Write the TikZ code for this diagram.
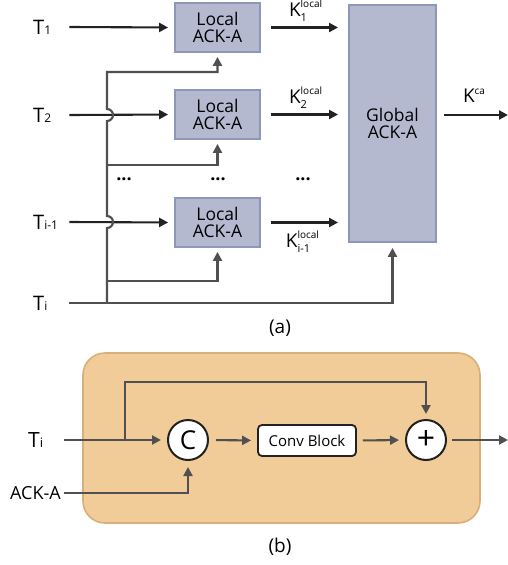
\documentclass[tikz,border=0pt]{standalone}
\usepackage{fontspec}
\setmainfont{Open Sans}
\usepackage{xcolor}
\definecolor{boxblue}{HTML}{B4B9D0}
\definecolor{boxedge}{HTML}{8D97BB}
\definecolor{panel}{HTML}{F1CC98}
\definecolor{paneledge}{HTML}{D6AF7B}
\definecolor{wire}{HTML}{505050}
\definecolor{ink}{HTML}{222222}
\usepackage{tikz}
\usetikzlibrary{arrows.meta}
\newcommand{\fs}[1]{\fontsize{#1}{#1}\selectfont}
\newcommand{\kloc}[1]{K\makebox[0pt][l]{\raisebox{9pt}{\fs{10}local}}\raisebox{-5pt}{\fs{11}#1}}

\begin{document}
\begin{tikzpicture}[x=1pt,y=-1pt,
  ack/.style={draw=boxedge, fill=boxblue, line width=1.8pt, inner sep=0pt, align=center, font=\fs{17.5}},
  lbl/.style={anchor=west, inner sep=0pt, text width=36pt, align=left, font=\fs{20}},
  tip/.style={-{Triangle[length=9pt,width=9pt]}, line width=2.1pt},
  roundop/.style={circle, draw=ink, fill=white, line width=2pt, minimum size=40pt, inner sep=0pt, font=\fs{26}}]
      \useasboundingbox (0,0) rectangle (508,565);
      \node[ack, minimum width=85pt, minimum height=49pt] (ack1) at (217.5,27.5) {Local\\ACK-A};
      \node[ack, minimum width=85pt, minimum height=49pt] (ack2) at (217.5,114.5) {Local\\ACK-A};
      \node[ack, minimum width=85pt, minimum height=49pt] (ack3) at (217.5,222.5) {Local\\ACK-A};
      \node[ack, minimum width=87pt, minimum height=237pt] (global) at (392.5,123.5) {Global\\ACK-A};
      \node[lbl] (t1) at (33,27) {T{\fs{12}1}};
      \node[lbl] (t2) at (33,115) {T{\fs{12}2}};
      \node[lbl] (tim) at (33,222) {T{\fs{12}i-1}};
      \node[lbl] (ti) at (33,303) {T{\fs{12}i}};
      \draw[tip, ink, shorten >=6pt] (t1.east) -- (ack1.west);
      \draw[tip, ink, shorten >=6pt] (t2.east) -- (ack2.west);
      \draw[tip, ink, shorten >=6pt] (tim.east) -- (ack3.west);
      \coordinate (bus2) at (107,165);
      \coordinate (bus3) at (107,281);
      \draw[tip, wire, shorten >=4pt] (107,303) -- (107,228) arc[start angle=90, end angle=-90, radius=6]
        -- (107,121) arc[start angle=90, end angle=-90, radius=6] -- (107,72) -| (ack1.south);
      \draw[tip, wire, shorten >=4pt] (bus2) -| (ack2.south);
      \draw[tip, wire, shorten >=4pt] (bus3) -| (ack3.south);
      \draw[tip, wire, shorten >=5pt] (ti.east) -| (global.south);
      \draw[tip, ink, shorten <=10pt, shorten >=10pt] (ack1.east) -- (ack1.east -| global.west);
      \draw[tip, ink, shorten <=10pt, shorten >=10pt] (ack2.east) -- (ack2.east -| global.west);
      \draw[tip, ink, shorten <=10pt, shorten >=10pt] (ack3.east) -- (ack3.east -| global.west);
      \node[font=\fs{19}] (k1) at (298,11) {\kloc{1}};
      \node[font=\fs{19}] (k2) at (298,98) {\kloc{2}};
      \node[font=\fs{19}] (kim) at (298,242) {\kloc{i-1}};
      \coordinate (out) at (508,115);
      \draw[tip, ink, shorten <=7pt] (global.east |- out) -- (out);
      \node[font=\fs{19}] (kca) at (474,96) {K\raisebox{8pt}{\fs{10}ca}};
      \node[font=\bfseries\fs{18}] at (124,179) {...};
      \node[font=\bfseries\fs{18}] at (218,179) {...};
      \node[font=\bfseries\fs{18}] at (303,179) {...};
      \node[font=\fs{19}] (capa) at (280,328) {(a)};

      \draw[paneledge, fill=panel, line width=1.6pt, rounded corners=22pt] (83,353) rectangle (480,523);
      \node[lbl, font=\fs{21}] (tib) at (28,440) {T{\fs{13}i}};
      \node[anchor=east, inner sep=0pt, inner xsep=3pt, font=\fs{18}] (ackb) at (64,493) {ACK-A};
      \node[roundop] (cat) at (188,440) {C};
      \node[draw=ink, fill=white, line width=1.8pt, rounded corners=4pt, minimum width=98pt, minimum height=31pt, inner sep=0pt, font=\fs{15}] (conv) at (307,440.5) {Conv Block};
      \node[roundop, font=\fs{32}] (add) at (426,440) {+};
      \coordinate (split) at (125,440);
      \coordinate (outb) at (508,440);
      \draw[tip, wire, shorten >=6pt] (tib.east) -- (cat.west);
      \draw[tip, wire, shorten >=5pt] (split) |- (426,382) -- (add.north);
      \draw[tip, wire, shorten >=6pt] (ackb.east) -| (cat.south);
      \draw[tip, wire, shorten <=7pt, shorten >=6pt] (cat.east) -- (conv.west);
      \draw[tip, wire, shorten <=6pt, shorten >=6pt] (conv.east) -- (add.west);
      \draw[tip, wire, shorten <=5pt] (add.east) -- (outb);
      \node[font=\fs{19}] (capb) at (280,547) {(b)};
\end{tikzpicture}
\end{document}
